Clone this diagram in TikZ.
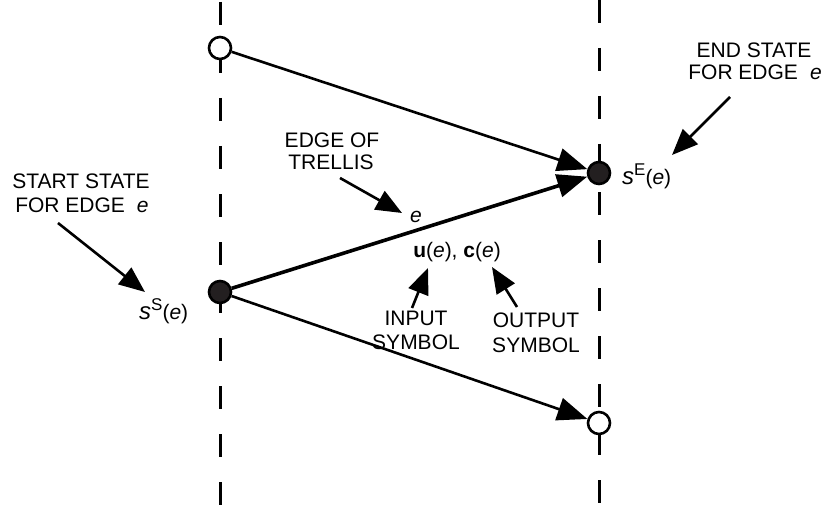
\documentclass[tikz,border=0pt]{standalone}
\usepackage{fontspec}
\setmainfont{Liberation Sans}
\usetikzlibrary{arrows.meta}
\definecolor{dotfill}{RGB}{35,31,32}
% state label s^X(e)
\newcommand\stlab[1]{{\fontsize{24bp}{24bp}\selectfont\textit{s}}\raisebox{9bp}{\fontsize{17bp}{17bp}\selectfont #1}(\textit{e})}
\begin{document}
\begin{tikzpicture}[x=1bp,y=-1bp,
  lbl/.style={inner sep=0pt, anchor=base, font=\fontsize{21bp}{25bp}\selectfont},
  guide/.style={line width=3bp, dash pattern=on 23bp off 25bp},
  openstate/.style={circle, draw, line width=2.6bp, fill=white, minimum size=22bp, inner sep=0pt},
  fullstate/.style={openstate, fill=dotfill},
  edgeline/.style={line width=2.6bp, -{Triangle[length=30bp,width=23bp]}},
  mainedge/.style={edgeline, line width=3.6bp},
  callout/.style={line width=2.6bp, -{Triangle[length=26bp,width=21bp]}}]
\useasboundingbox (0,0) rectangle (825,505);

% time-slice guides
\draw[guide] (220,2) -- (220,505);
\draw[guide] (599,0) -- (599,505);

% trellis states
\node[openstate] (topA) at (220,48) {};
\node[fullstate] (startL) at (220,292) {};
\node[fullstate] (endR) at (599,173) {};
\node[openstate] (botB) at (599,423) {};

% trellis edges
\draw[edgeline] (topA) -- (endR);
\draw[mainedge] (startL) -- (endR);
\draw[edgeline] (startL) -- (botB);

% labels
\node[lbl] (start1) at (81,189) {START STATE};
\node[lbl] (start2) at (82,213) {FOR EDGE\hspace{12bp}\textit{e}};
\node[lbl] (end1) at (754,58) {END STATE};
\node[lbl] (end2) at (755,80) {FOR EDGE\hspace{12bp}\textit{e}};
\node[lbl] (trel1) at (332,148) {EDGE OF};
\node[lbl] (trel2) at (331,170) {TRELLIS};
\node[lbl] (elab) at (416,223) {\textit{e}};
\node[lbl] (uc) at (457,258) {\textbf{u}(\textit{e}), \textbf{c}(\textit{e})};
\node[lbl] (in1) at (416,326) {INPUT};
\node[lbl] (in2) at (416,349) {SYMBOL};
\node[lbl] (out1) at (536,328) {OUTPUT};
\node[lbl] (out2) at (536,352) {SYMBOL};
\node[lbl, anchor=base west] (sS) at (139,320) {\stlab{S}};
\node[lbl, anchor=base west] (sE) at (622,185) {\stlab{E}};

% callout arrows
\coordinate (startT) at (58,223);  \coordinate (startH) at (145,292);
\coordinate (endT) at (730,97);    \coordinate (endH) at (672,155);
\coordinate (trelT) at (340,178);  \coordinate (trelH) at (402,213);
\coordinate (inT) at (412,308);    \coordinate (inH) at (428,268);
\coordinate (outT) at (517,307);   \coordinate (outH) at (492,267);
\draw[callout] (startT) -- (startH);
\draw[callout] (endT) -- (endH);
\draw[callout] (trelT) -- (trelH);
\draw[callout] (inT) -- (inH);
\draw[callout] (outT) -- (outH);
\end{tikzpicture}
\end{document}
